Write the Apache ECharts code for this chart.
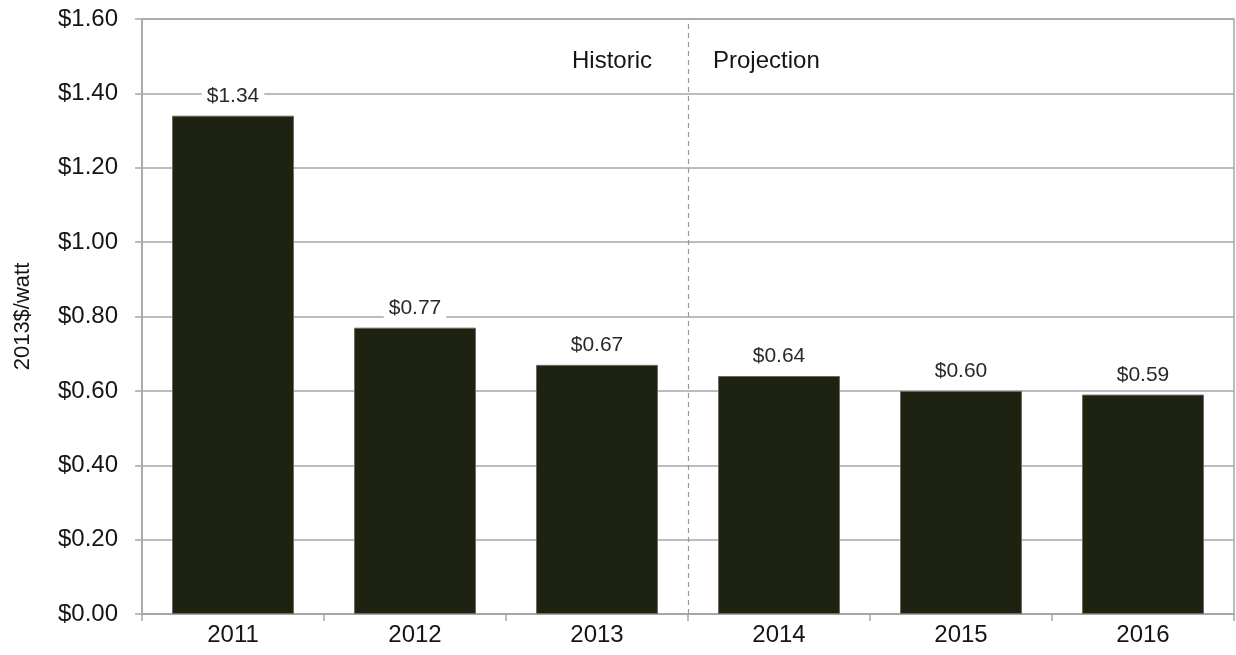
<!DOCTYPE html>
<html>
<head>
<meta charset="utf-8">
<script src="https://cdn.jsdelivr.net/npm/echarts@6/dist/echarts.min.js"></script>
<style>
  html, body { margin: 0; padding: 0; background: #fff; }
  #chart { width: 1236px; height: 655px; }
</style>
</head>
<body>
<div id="chart"></div>
<script>
// Installed cost per watt, historic and projected
const years = ['2011', '2012', '2013', '2014', '2015', '2016'];
const costPerWatt = [1.34, 0.77, 0.67, 0.64, 0.60, 0.59];
const yTicks = { min: 0, max: 1.6, interval: 0.2 };
const splitAt = 2.5;          // boundary between 2013 and 2014
const periodLabels = ['Historic', 'Projection'];
const captionLevel = 1.485;

const textColor = '#151515';
const gridColor = '#a6a6a6';
const font = 'Liberation Sans, Arial, sans-serif';

const chart = echarts.init(document.getElementById('chart'));
chart.setOption({
  animation: false,
  grid: {
    left: 142, right: 2, top: 19, bottom: 41, containLabel: false,
    show: true, borderColor: gridColor, borderWidth: 1.5
  },
  xAxis: [
    {
      type: 'category',
      data: years,
      axisLine: { lineStyle: { color: gridColor, width: 1.5 } },
      axisTick: { show: true, length: 7, lineStyle: { color: gridColor, width: 1.5 } },
      axisLabel: { color: textColor, fontSize: 24, fontFamily: font, margin: 9 }
    },
    {
      type: 'value', min: -0.5, max: years.length - 0.5, show: false
    }
  ],
  yAxis: {
    type: 'value',
    min: yTicks.min, max: yTicks.max, interval: yTicks.interval,
    name: '2013$/watt',
    nameLocation: 'middle',
    nameGap: 108,
    nameRotate: 90,
    nameTextStyle: { color: textColor, fontSize: 22, fontFamily: font },
    axisLine: { show: true, onZero: false, lineStyle: { color: gridColor, width: 1.5 } },
    axisTick: { show: true, length: 7, lineStyle: { color: gridColor, width: 1.5 } },
    axisLabel: {
      color: textColor, fontSize: 24, fontFamily: font, margin: 24,
      formatter: v => '$' + v.toFixed(2)
    },
    splitLine: { show: true, lineStyle: { color: gridColor, width: 1.5 } }
  },
  series: [
    {
      type: 'bar',
      data: costPerWatt,
      barWidth: '67%',
      itemStyle: { color: '#1e2211', borderColor: '#6b6b60', borderWidth: 1 },
      label: {
        show: true,
        position: 'top',
        distance: 8,
        color: '#2a2a2a',
        fontSize: 21,
        fontFamily: font,
        backgroundColor: '#fff',
        padding: [1, 5],
        formatter: p => '$' + p.value.toFixed(2)
      },
      z: 3
    },
    {
      // captions either side of the historic / projection divider
      type: 'scatter',
      xAxisIndex: 1,
      symbolSize: 0,
      itemStyle: { opacity: 1 },
      data: [
        { value: [splitAt, captionLevel], label: { position: 'left', distance: 36 } },
        { value: [splitAt, captionLevel], label: { position: 'right', distance: 25 } }
      ],
      label: {
        show: true,
        color: textColor,
        fontSize: 24,
        fontFamily: font,
        formatter: p => periodLabels[p.dataIndex]
      },
      markLine: {
        silent: true,
        symbol: 'none',
        label: { show: false },
        lineStyle: { color: '#999', type: [5, 4], width: 1.2 },
        data: [{ xAxis: splitAt }]
      },
      z: 4
    }
  ]
});
</script>
</body>
</html>
